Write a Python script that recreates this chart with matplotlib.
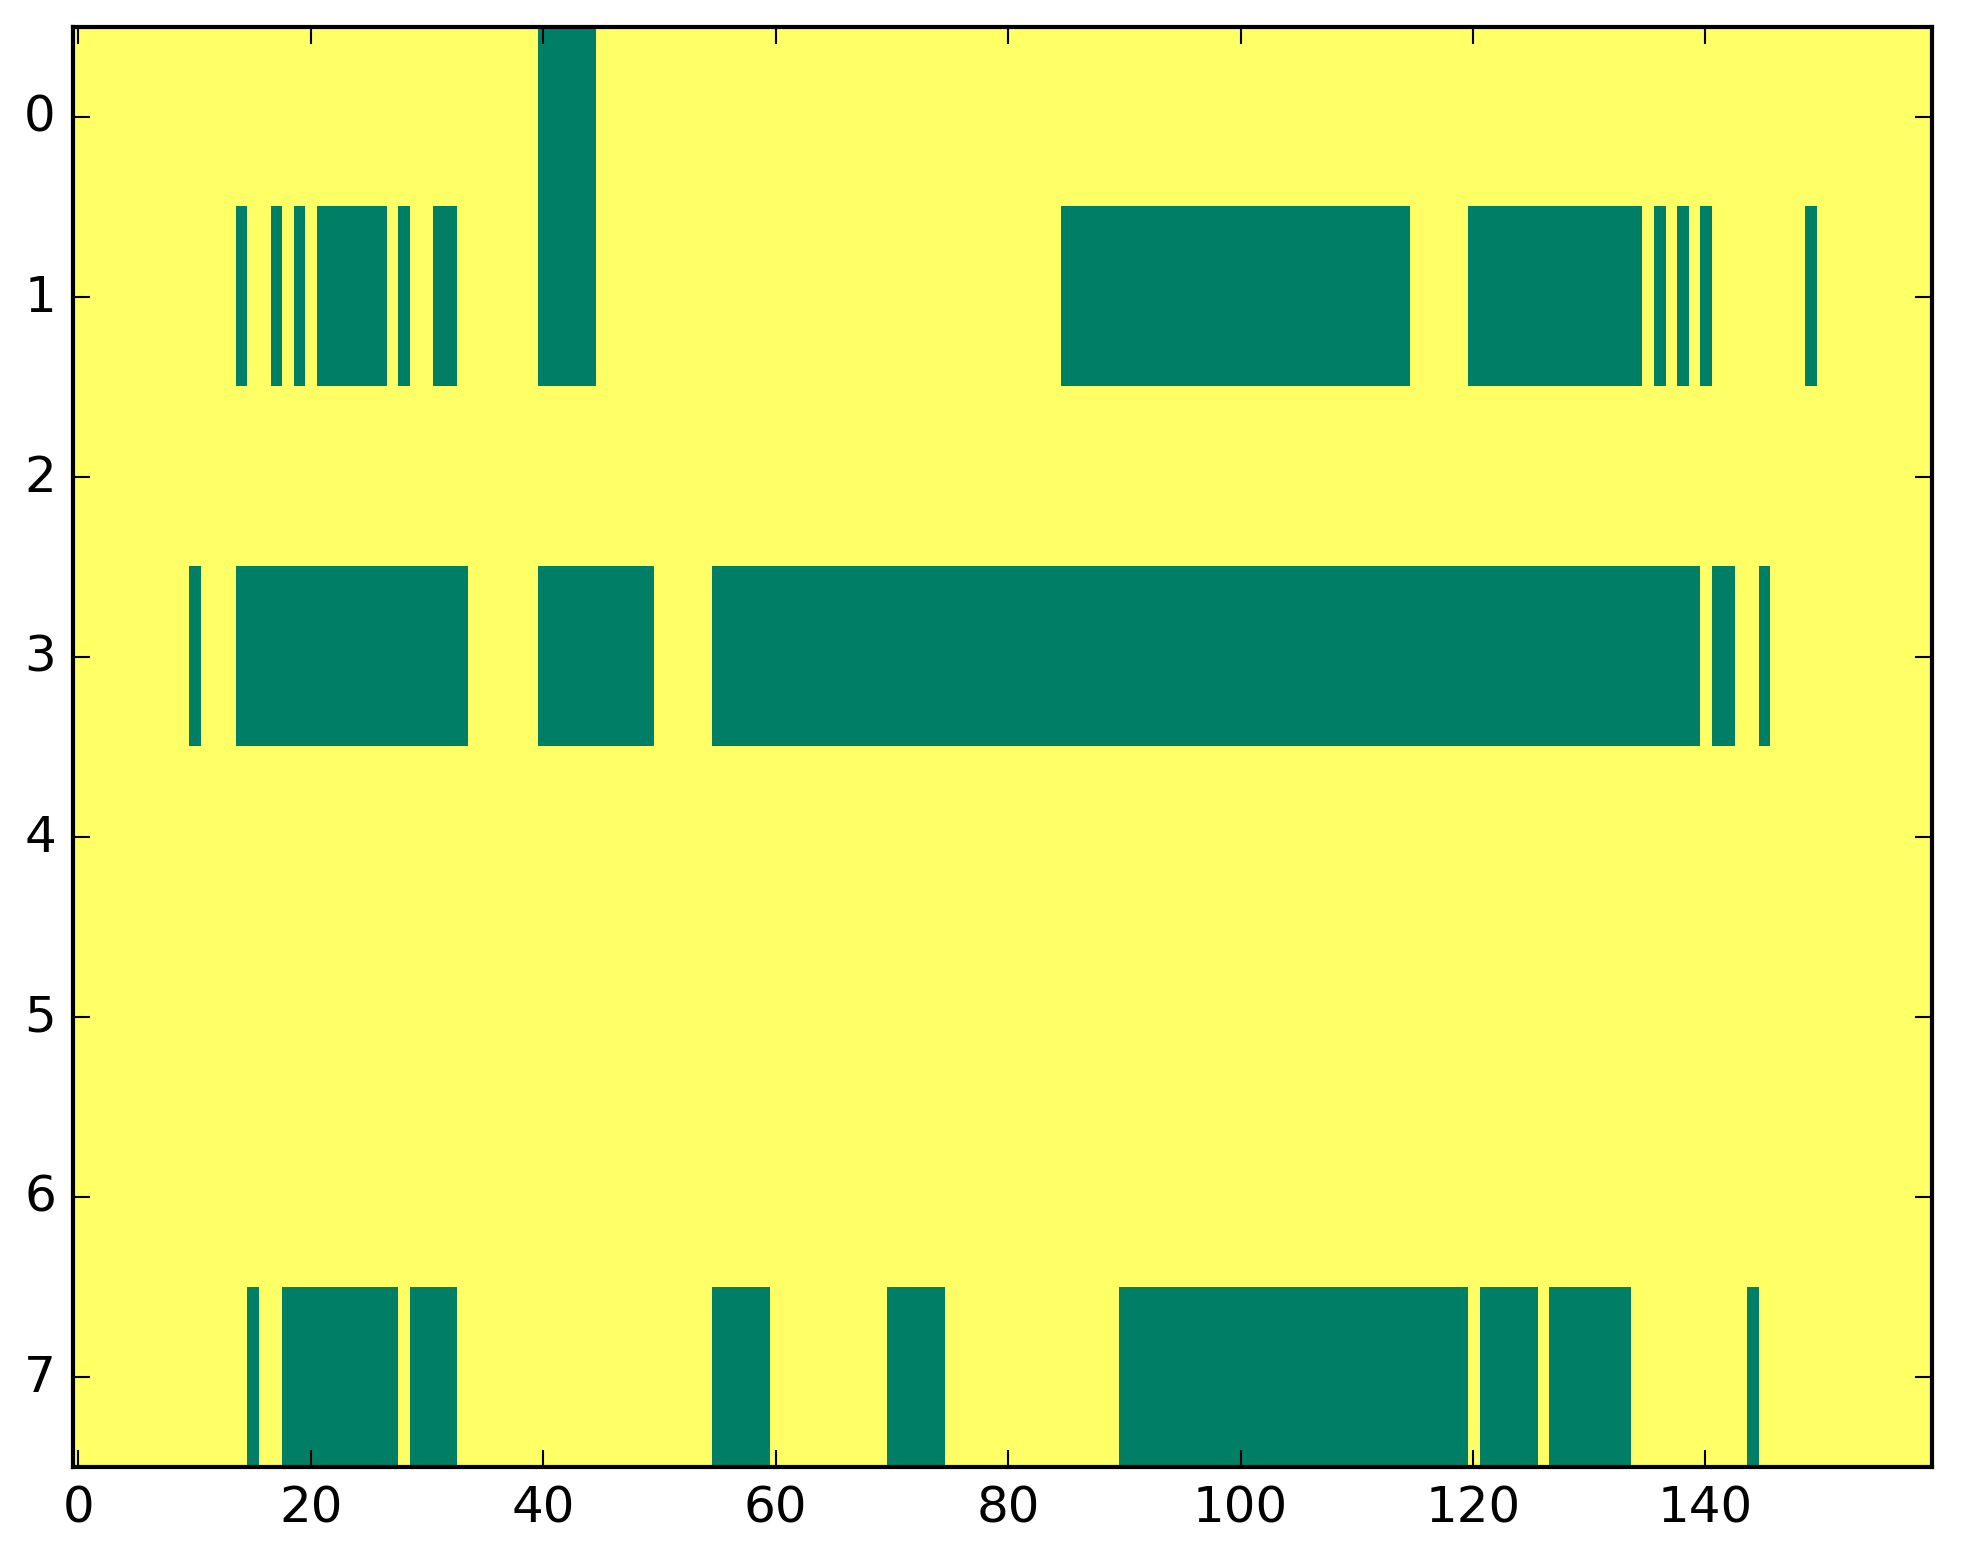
import numpy as np
import matplotlib
matplotlib.use("Agg")
import matplotlib.pyplot as plt

plt.style.use("classic")

n_rows = 8
n_cols = 160

# green runs per row, (first column, last column) inclusive
row0 = [(40, 44)]
row1 = [(14, 14), (17, 17), (19, 19), (21, 26), (28, 28), (31, 32), (40, 44),
        (85, 114), (120, 134), (136, 136), (138, 138), (140, 140), (149, 149)]
row3 = [(10, 10), (14, 33), (40, 49), (55, 139), (141, 142), (145, 145)]
row7 = [(15, 15), (18, 27), (29, 32), (55, 59), (70, 74), (90, 119),
        (121, 125), (127, 133), (144, 144)]
runs = {0: row0, 1: row1, 3: row3, 7: row7}

grid = np.ones((n_rows, n_cols))
for r, segs in runs.items():
    for a, b in segs:
        grid[r, a:b + 1] = 0

dpi = 300
W, H = 1963, 1564
fig = plt.figure(figsize=(W / dpi, H / dpi), dpi=dpi, facecolor="white")
ax = fig.add_axes([72.6 / W, 1 - 1468 / H, (1932 - 72.6) / W, (1468 - 27.5) / H])
ax.imshow(grid, cmap="summer", aspect="auto", interpolation="nearest", vmin=0, vmax=1)
ax.set_xticks(np.arange(0, 141, 20))
ax.set_yticks(np.arange(0, 8))
ax.set_xlim(-0.5, n_cols - 0.5)
ax.set_ylim(n_rows - 0.5, -0.5)

fig.savefig("out.png", dpi=dpi, facecolor="white")
